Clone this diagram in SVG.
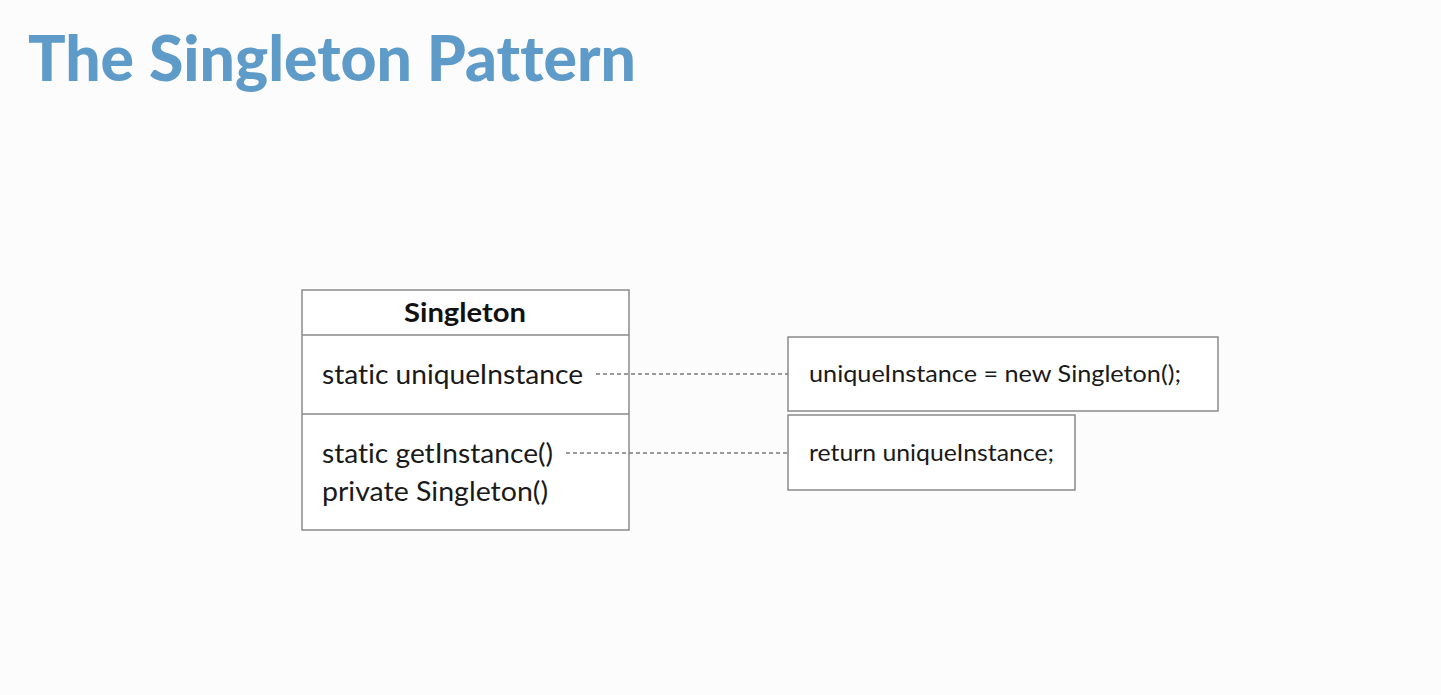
<svg xmlns="http://www.w3.org/2000/svg" width="1441" height="695" viewBox="0 0 1441 695">
  <style>
    text { font-variant-ligatures: none; }
    .box { fill: #ffffff; stroke: #8a8a8a; stroke-width: 1.5; }
    .rule { stroke: #8a8a8a; stroke-width: 1.5; }
    .dash { stroke: #7a7a7a; stroke-width: 1.5; stroke-dasharray: 4 3; fill: none; }
    .title { font-family: Lato, "Noto Sans", sans-serif; font-weight: 900; font-size: 62px; fill: #5f9bc8; }
    .cls { font-family: Lato, "Noto Sans", sans-serif; font-weight: bold; font-size: 26px; fill: #111111; }
    .member { font-family: Lato, "Noto Sans", sans-serif; font-size: 27px; fill: #1a1a1a; }
    .note { font-family: Lato, "Noto Sans", sans-serif; font-size: 23px; fill: #1a1a1a; }
  </style>
  <rect width="1441" height="695" fill="#fcfcfc"/>
  <text class="title" x="28" y="81" textLength="608" lengthAdjust="spacingAndGlyphs">The Singleton Pattern</text>

  <g id="singleton">
    <rect class="box" x="302" y="290" width="327" height="240"/>
    <line class="rule" x1="302" y1="335" x2="629" y2="335"/>
    <line class="rule" x1="302" y1="414" x2="629" y2="414"/>
    <text class="cls" x="404" y="322" textLength="122" lengthAdjust="spacingAndGlyphs">Singleton</text>
    <text class="member" x="322" y="384" textLength="261" lengthAdjust="spacingAndGlyphs">static uniqueInstance</text>
    <text class="member" x="322" y="463" textLength="231" lengthAdjust="spacingAndGlyphs">static getInstance()</text>
    <text class="member" x="322" y="501" textLength="226" lengthAdjust="spacingAndGlyphs">private Singleton()</text>
  </g>

  <g id="note-instance">
    <rect class="box" x="788" y="337" width="430" height="74"/>
    <text class="note" x="809" y="382" textLength="372" lengthAdjust="spacingAndGlyphs">uniqueInstance = new Singleton();</text>
  </g>

  <g id="note-getinstance">
    <rect class="box" x="788" y="415" width="287" height="75"/>
    <text class="note" x="809" y="461" textLength="245" lengthAdjust="spacingAndGlyphs">return uniqueInstance;</text>
  </g>

  <g id="connectors">
    <line class="dash" x1="596" y1="374" x2="788" y2="374"/>
    <line class="dash" x1="566" y1="453" x2="788" y2="453"/>
  </g>
</svg>
